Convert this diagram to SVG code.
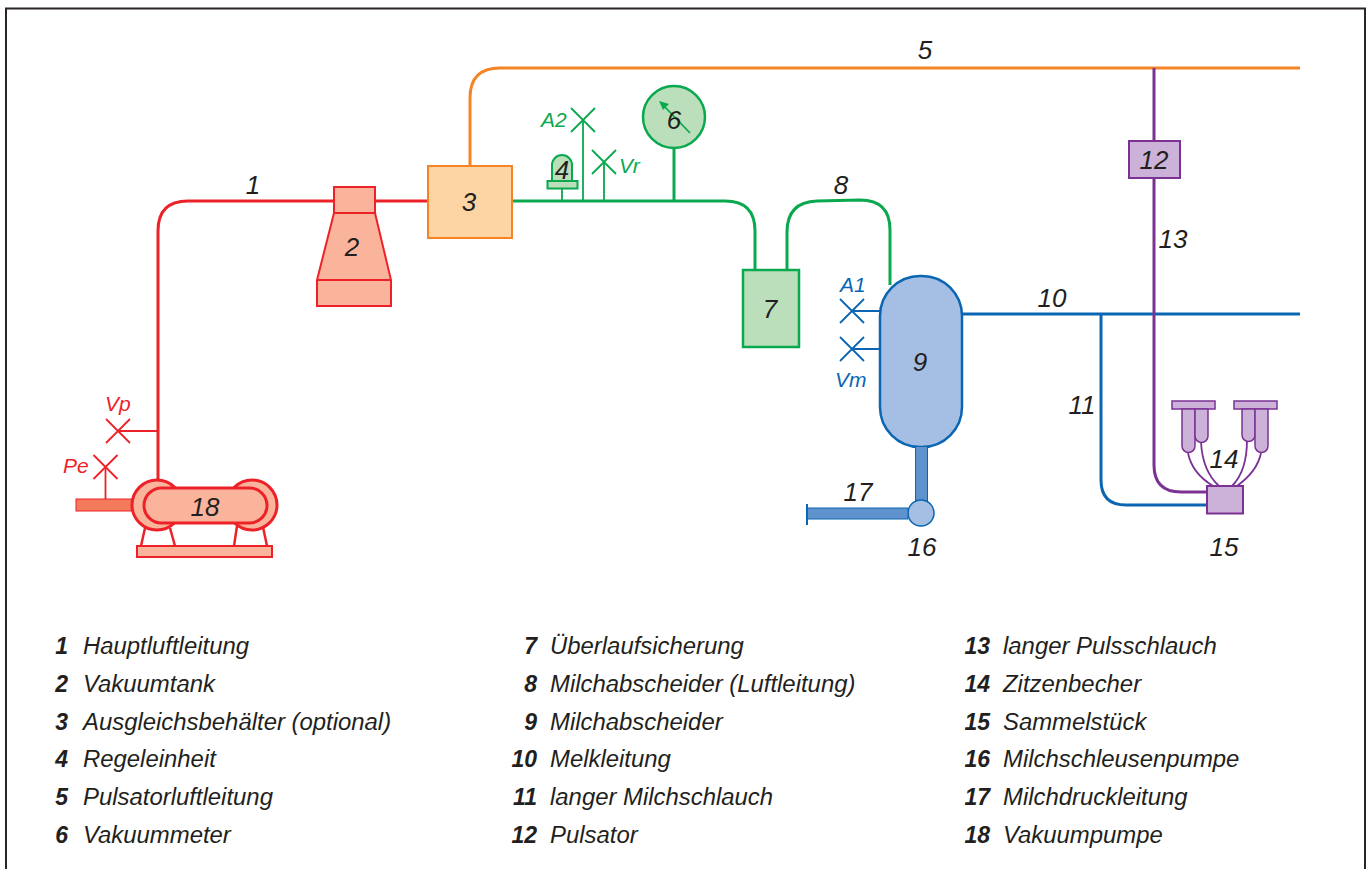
<svg xmlns="http://www.w3.org/2000/svg" width="1367" height="869" viewBox="0 0 1367 869">
<style>
text{font-family:"Liberation Sans",Arial,sans-serif;font-style:italic;stroke:none}
.n{font-size:26px;fill:#231f20;text-anchor:middle}
.l{font-size:23.9px;fill:#231f20}
.k{font-size:23px;fill:#231f20;font-weight:bold;text-anchor:end}
.s{font-size:21px}
.p{fill:none;stroke-width:3}
.t{fill:none;stroke-width:1.8}
.red{stroke:#ed2229}.grn{stroke:#0aa84f}.blu{stroke:#0a66b2}.pur{stroke:#7b3294}.org{stroke:#f58426}
.rf{fill:#f9b49b}.gf{fill:#bbdfba}.bf{fill:#a5bee3}.uf{fill:#ccb2d8}
</style>
<defs>
<path id="x" d="M-12-12L12 12M-12 12L12-12" fill="none" stroke-width="1.800"/>
</defs>
<rect x="6" y="8.500" width="1359" height="870" fill="#fff" stroke="#2b2526" stroke-width="2"/>
<g id="connectors">
<path class="p red" d="M158 490V231Q158 201 188 201H428"/>
<path class="p org" d="M470 166V98Q470 68 500 68H1300"/>
<path class="p grn" d="M512 201H725Q755 201 755 231V270"/>
<path class="p grn" d="M787 270V232Q787 202 817 201L860 200Q890 200 890 230V285"/>
<path class="p blu" d="M962 314H1300"/>
<path class="p blu" d="M1101 314V480Q1101 505 1126 505H1207"/>
<path class="p pur" d="M1154 68V141M1154 178V465Q1154 492 1181 492H1207"/>
<path class="p grn" d="M674 148V201"/>
<path class="t grn" d="M562 189V201M583 120V201M604 162V201"/>
<path class="t red" d="M118 431H158M105.500 467V505"/>
<path class="t blu" d="M852 311H880M852 349H880"/>
<path class="t pur" d="M1188 453C1191 468 1200 478 1213 486M1201 442C1202 462 1208 476 1219 486M1247 440C1247 462 1242 476 1232 486M1261 453C1258 468 1248 478 1237 486"/>
</g>
<g id="node1"><text class="n" x="253" y="194">1</text></g>
<g id="node2"><path class="rf red" stroke-width="2" d="M334 213L317 280V306H391V280L375 213Z"/><path class="red" fill="none" stroke-width="2" d="M317 280H391"/><rect class="rf red" stroke-width="2" x="334" y="187" width="41" height="26"/><text class="n" x="352" y="256">2</text></g>
<g id="node3"><rect x="428" y="166" width="84" height="72" fill="#fdd5a5" stroke="#f58426" stroke-width="2"/><text class="n" x="469" y="211">3</text></g>
<g id="node4"><path class="gf grn" stroke-width="2" d="M552 181V165A10 10 0 0 1 572 165V181Z"/><rect class="gf grn" stroke-width="2" x="547.500" y="181" width="30" height="7.500"/><text class="n" x="562" y="179">4</text></g>
<g id="nodeA2"><use class="grn" href="#x" x="583" y="120"/><text class="s" x="541" y="127" fill="#0aa84f">A2</text></g>
<g id="nodeVr"><use class="grn" href="#x" x="604" y="162"/><text class="s" x="619" y="173" fill="#0aa84f">Vr</text></g>
<g id="node5"><text class="n" x="925" y="59">5</text></g>
<g id="node6"><circle class="gf grn" stroke-width="2.500" cx="674" cy="117" r="31"/><path class="t grn" d="M690 133L664 106"/><path d="M659 101L669 104L663 110Z" fill="#0aa84f"/><text class="n" x="674" y="129">6</text></g>
<g id="node7"><rect class="gf grn" stroke-width="2.500" x="743" y="270" width="56" height="77"/><text class="n" x="770" y="318">7</text></g>
<g id="node8"><text class="n" x="841" y="194">8</text></g>
<g id="node9"><rect class="bf blu" stroke-width="2.500" x="880" y="276" width="82" height="171" rx="40" ry="40"/><text class="n" x="920" y="371">9</text></g>
<g id="nodeA1"><use class="blu" href="#x" x="852" y="311"/><text class="s" x="840" y="292" fill="#0a66b2">A1</text></g>
<g id="nodeVm"><use class="blu" href="#x" x="852" y="349"/><text class="s" x="835" y="387" fill="#0a66b2">Vm</text></g>
<g id="node10"><text class="n" x="1052" y="307">10</text></g>
<g id="node11"><text class="n" x="1082" y="414">11</text></g>
<g id="node12"><rect class="uf pur" stroke-width="2" x="1129" y="141" width="51" height="37"/><text class="n" x="1154" y="169">12</text></g>
<g id="node13"><text class="n" x="1173" y="248">13</text></g>
<g id="node14"><rect class="uf pur" stroke-width="1.500" x="1172" y="401" width="43" height="8"/><rect class="uf pur" stroke-width="1.500" x="1234" y="401" width="43" height="8"/><path class="uf pur" stroke-width="1.500" d="M1182 409V446A6.500 6.500 0 0 0 1195 446V409Z"/><path class="uf pur" stroke-width="1.500" d="M1195 409V436A6.500 6.500 0 0 0 1208 436V409Z"/><path class="uf pur" stroke-width="1.500" d="M1242 409V435A6.500 6.500 0 0 0 1255 435V409Z"/><path class="uf pur" stroke-width="1.500" d="M1255 409V446A6.500 6.500 0 0 0 1268 446V409Z"/><text class="n" x="1224" y="468">14</text></g>
<g id="node15"><rect class="uf pur" stroke-width="2" x="1207" y="486" width="36" height="27.500"/><text class="n" x="1224" y="556">15</text></g>
<g id="node16"><path d="M921.500 447V505" stroke="#5f93ce" stroke-width="11" fill="none"/><path d="M915.500 447V505M927.500 447V505" stroke="#0a66b2" stroke-width="1" fill="none"/><circle class="bf blu" stroke-width="1.500" cx="921" cy="513" r="13"/><text class="n" x="922" y="556">16</text></g>
<g id="node17"><rect x="807" y="508" width="101" height="11" fill="#5f93ce" stroke="#0a66b2" stroke-width="1"/><path class="blu" fill="none" stroke-width="2" d="M807 504V525"/><text class="n" x="858" y="501">17</text></g>
<g id="node18">
<path class="red" fill="none" stroke-width="2.500" d="M145 528L141 546M170 528L175 546M237 526L234 546M263 527L267 546"/>
<rect class="rf red" stroke-width="2" x="137" y="546" width="135" height="11"/>
<rect x="76" y="499" width="57" height="12" fill="#f47a5c" stroke="#ed2229" stroke-width="1"/>
<circle class="rf red" stroke-width="3" cx="157" cy="505" r="25"/><circle class="rf red" stroke-width="3" cx="252" cy="505" r="25"/>
<rect class="rf red" stroke-width="3" x="144" y="488" width="123" height="35" rx="17.500"/>
<text class="n" x="205" y="516">18</text></g>
<g id="nodeVp"><use class="red" href="#x" x="118" y="431"/><text class="s" x="105" y="411" fill="#ed2229">Vp</text></g>
<g id="nodePe"><use class="red" href="#x" x="105.500" y="467"/><text class="s" x="63" y="473" fill="#ed2229">Pe</text></g>
<g id="legend">
<text class="k" x="68" y="653.500">1</text><text class="l" x="83" y="653.500">Hauptluftleitung</text>
<text class="k" x="68" y="691.500">2</text><text class="l" x="83" y="691.500">Vakuumtank</text>
<text class="k" x="68" y="729.500">3</text><text class="l" x="83" y="729.500">Ausgleichsbehälter (optional)</text>
<text class="k" x="68" y="767">4</text><text class="l" x="83" y="767">Regeleinheit</text>
<text class="k" x="68" y="805">5</text><text class="l" x="83" y="805">Pulsatorluftleitung</text>
<text class="k" x="68" y="842.500">6</text><text class="l" x="83" y="842.500">Vakuummeter</text>
<text class="k" x="537" y="653.500">7</text><text class="l" x="550" y="653.500">Überlaufsicherung</text>
<text class="k" x="537" y="691.500">8</text><text class="l" x="550" y="691.500">Milchabscheider (Luftleitung)</text>
<text class="k" x="537" y="729.500">9</text><text class="l" x="550" y="729.500">Milchabscheider</text>
<text class="k" x="537" y="767">10</text><text class="l" x="550" y="767">Melkleitung</text>
<text class="k" x="537" y="805">11</text><text class="l" x="550" y="805">langer Milchschlauch</text>
<text class="k" x="537" y="842.500">12</text><text class="l" x="550" y="842.500">Pulsator</text>
<text class="k" x="990" y="653.500">13</text><text class="l" x="1003" y="653.500">langer Pulsschlauch</text>
<text class="k" x="990" y="691.500">14</text><text class="l" x="1003" y="691.500">Zitzenbecher</text>
<text class="k" x="990" y="729.500">15</text><text class="l" x="1003" y="729.500">Sammelstück</text>
<text class="k" x="990" y="767">16</text><text class="l" x="1003" y="767">Milchschleusenpumpe</text>
<text class="k" x="990" y="805">17</text><text class="l" x="1003" y="805">Milchdruckleitung</text>
<text class="k" x="990" y="842.500">18</text><text class="l" x="1003" y="842.500">Vakuumpumpe</text>
</g>
</svg>
